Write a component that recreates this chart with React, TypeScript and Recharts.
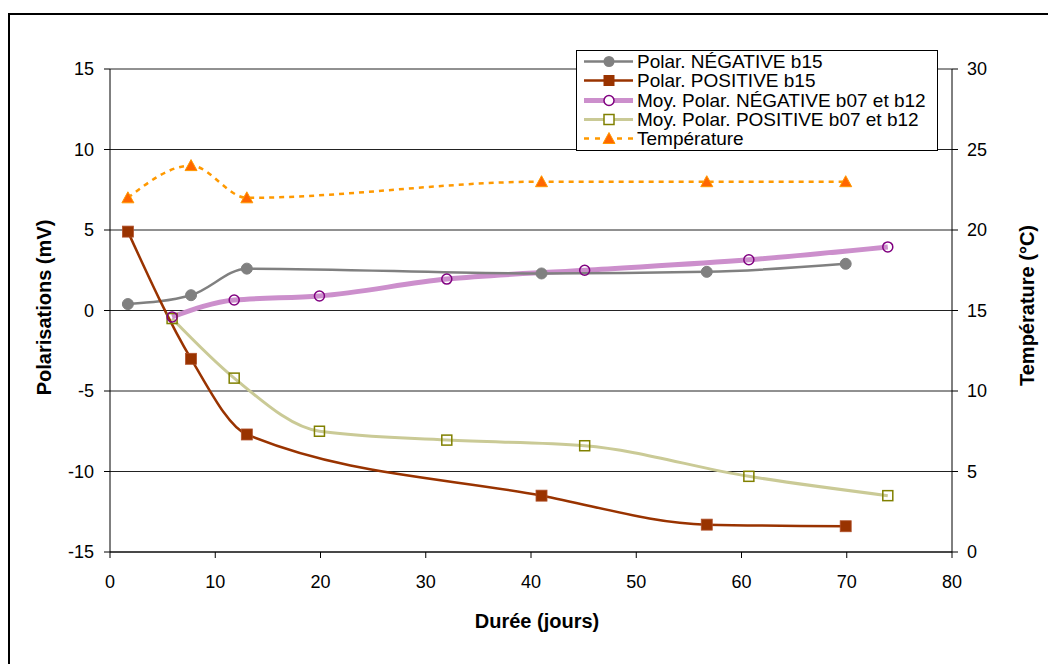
import React from 'react';
import { LineChart, Line, XAxis, YAxis, CartesianGrid, Legend } from 'recharts';

// ---- data ----
const negB15Days = [1.7, 7.7, 13.0, 41.0, 56.7, 69.9];
const negB15Values = [0.4, 0.95, 2.6, 2.3, 2.4, 2.9];
const posB15Days = [1.7, 7.7, 13.0, 41.0, 56.7, 69.9];
const posB15Values = [4.9, -3.0, -7.7, -11.5, -13.3, -13.4];
const moyNegDays = [5.9, 11.8, 19.9, 32.0, 45.1, 60.7, 73.9];
const moyNegValues = [-0.4, 0.65, 0.9, 1.95, 2.5, 3.15, 3.95];
const moyPosDays = [5.9, 11.8, 19.9, 32.0, 45.1, 60.7, 73.9];
const moyPosValues = [-0.5, -4.2, -7.5, -8.05, -8.4, -10.3, -11.5];
const tempDays = [1.7, 7.7, 13.0, 41.0, 56.7, 69.9];
const tempValues = [22, 24, 22, 23, 23, 23];

const xTicks = [0, 10, 20, 30, 40, 50, 60, 70, 80];
const leftTicks = [-15, -10, -5, 0, 5, 10, 15];
const rightTicks = [0, 5, 10, 15, 20, 25, 30];

const seriesNames = [
  'Polar. NÉGATIVE b15',
  'Polar. POSITIVE b15',
  'Moy. Polar. NÉGATIVE b07 et b12',
  'Moy. Polar. POSITIVE b07 et b12',
  'Température',
];

const xTitle = 'Durée (jours)';
const leftTitle = 'Polarisations (mV)';
const rightTitle = 'Température (°C)';

const zip = (xs: number[], ys: number[]) => xs.map((x, i) => ({ x, y: ys[i] }));
const negB15Data = zip(negB15Days, negB15Values);
const posB15Data = zip(posB15Days, posB15Values);
const moyNegData = zip(moyNegDays, moyNegValues);
const moyPosData = zip(moyPosDays, moyPosValues);
const tempData = zip(tempDays, tempValues);

const FONT = '"Liberation Sans", Arial, sans-serif';

const C_GRAY = '#808080';
const C_BROWN = '#993300';
const C_PINK = '#CC8FCC';
const C_PURPLE = '#800080';
const C_OLIVE_LINE = '#CACA96';
const C_OLIVE = '#808000';
const C_ORANGE = '#FF9900';
const C_ORANGE_FILL = '#FF6600';

// ---- markers ----
const grayDot = (p: any) =>
  p.cx == null ? <g key={p.index} /> : <circle key={p.index} cx={p.cx} cy={p.cy} r={5.5} fill={C_GRAY} stroke={C_GRAY} />;
const brownSquare = (p: any) =>
  p.cx == null ? <g key={p.index} /> : <rect key={p.index} x={p.cx - 5.5} y={p.cy - 5.5} width={11} height={11} fill={C_BROWN} stroke="#B0502A" strokeWidth={0.8} />;
const purpleCircle = (p: any) =>
  p.cx == null ? <g key={p.index} /> : <circle key={p.index} cx={p.cx} cy={p.cy} r={5} fill="none" stroke={C_PURPLE} strokeWidth={1.5} />;
const oliveSquare = (p: any) =>
  p.cx == null ? <g key={p.index} /> : <rect key={p.index} x={p.cx - 5} y={p.cy - 5} width={10} height={10} fill="none" stroke={C_OLIVE} strokeWidth={1.5} />;
const triangle = (p: any) =>
  p.cx == null ? <g key={p.index} /> : (
    <polygon key={p.index} points={`${p.cx},${p.cy - 6} ${p.cx + 6},${p.cy + 5} ${p.cx - 6},${p.cy + 5}`} fill={C_ORANGE_FILL} stroke={C_ORANGE} strokeWidth={1} />
  );

// ---- legend ----
const LegendIcon = ({ idx }: { idx: number }) => {
  const y = 9.5;
  const cx = 32;
  const common = { width: 56, height: 19 };
  if (idx === 0)
    return (
      <svg {...common}>
        <line x1={7} x2={56} y1={y} y2={y} stroke={C_GRAY} strokeWidth={2.5} />
        <circle cx={cx} cy={y} r={5.5} fill={C_GRAY} />
      </svg>
    );
  if (idx === 1)
    return (
      <svg {...common}>
        <line x1={7} x2={56} y1={y} y2={y} stroke={C_BROWN} strokeWidth={2.5} />
        <rect x={cx - 5.5} y={y - 5.5} width={11} height={11} fill={C_BROWN} />
      </svg>
    );
  if (idx === 2)
    return (
      <svg {...common}>
        <line x1={7} x2={56} y1={y} y2={y} stroke={C_PINK} strokeWidth={5} />
        <circle cx={cx} cy={y} r={5} fill="#fff" stroke={C_PURPLE} strokeWidth={1.5} />
      </svg>
    );
  if (idx === 3)
    return (
      <svg {...common}>
        <line x1={7} x2={56} y1={y} y2={y} stroke={C_OLIVE_LINE} strokeWidth={3} />
        <rect x={cx - 5} y={y - 5} width={10} height={10} fill="#fff" stroke={C_OLIVE} strokeWidth={1.5} />
      </svg>
    );
  return (
    <svg {...common}>
      <line x1={7} x2={56} y1={y} y2={y} stroke={C_ORANGE} strokeWidth={2.5} strokeDasharray="5 6" />
      <polygon points={`${cx},${y - 6} ${cx + 6},${y + 5} ${cx - 6},${y + 5}`} fill={C_ORANGE_FILL} stroke={C_ORANGE} />
    </svg>
  );
};

const LegendBox = () => (
  <div
    style={{
      border: '1px solid #000',
      background: '#fff',
      width: 360,
      height: 98,
      paddingTop: 1,
      boxSizing: 'content-box',
      fontFamily: FONT,
      fontSize: 19,
      color: '#000',
    }}
  >
    {seriesNames.map((n, i) => (
      <div key={n} style={{ display: 'flex', alignItems: 'center', height: 19.3, lineHeight: '19px', whiteSpace: 'nowrap' }}>
        <LegendIcon idx={i} />
        <span style={{ marginLeft: 4 }}>{n}</span>
      </div>
    ))}
  </div>
);

// ---- axis titles ----
const titleStyle = { fontFamily: FONT, fontSize: 20, fontWeight: 700, fill: '#000' } as const;

const LeftTitle = (props: any) => {
  const vb = props.viewBox || { x: 30, y: 61, width: 72, height: 483 };
  const cx = vb.x + 5.5;
  const cy = vb.y + vb.height / 2 - 3;
  return (
    <text x={cx} y={cy} transform={`rotate(-90 ${cx} ${cy})`} textAnchor="middle" dominantBaseline="central" style={titleStyle}>
      {leftTitle}
    </text>
  );
};
const RightTitle = (props: any) => {
  const vb = props.viewBox || { x: 944, y: 61, width: 84, height: 483 };
  const cx = vb.x + 75;
  const cy = vb.y + vb.height / 2 - 5;
  return (
    <text x={cx} y={cy} transform={`rotate(-90 ${cx} ${cy})`} textAnchor="middle" dominantBaseline="central" style={titleStyle}>
      {rightTitle}
    </text>
  );
};
const BottomTitle = (props: any) => {
  const vb = props.viewBox || { x: 102, y: 544, width: 842, height: 60 };
  const cx = vb.x + vb.width / 2 + 6;
  const cy = vb.y + 69;
  return (
    <text x={cx} y={cy} textAnchor="middle" dominantBaseline="central" style={titleStyle}>
      {xTitle}
    </text>
  );
};

const tickStyle = { fontSize: 18, fill: '#000', fontFamily: FONT };

export default function App() {
  return (
    <div style={{ position: 'relative', width: 1048, height: 656, overflow: 'hidden' }}>
      <div
        style={{
          position: 'absolute',
          left: 0,
          top: 5,
          width: 1048,
          height: 651,
          borderLeft: '2px solid #000',
          borderTop: '2px solid #000',
          boxSizing: 'border-box',
        }}
      />
      <div style={{ position: 'absolute', left: 0, top: 0 }}>
        <LineChart width={1048} height={656} margin={{ top: 61, right: 20, left: 30, bottom: 52 }}>
          <CartesianGrid horizontal vertical={false} stroke="#222" strokeWidth={1} yAxisId="left" />
          <XAxis
            dataKey="x"
            type="number"
            domain={[0, 80]}
            ticks={xTicks}
            allowDataOverflow
            height={60}
            tick={tickStyle}
            tickSize={6}
            tickMargin={17}
            axisLine={{ stroke: '#000' }}
            tickLine={{ stroke: '#000' }}
            label={<BottomTitle />}
          />
          <YAxis
            yAxisId="left"
            dataKey="y"
            type="number"
            domain={[-15, 15]}
            ticks={leftTicks}
            width={72}
            tick={tickStyle}
            tickSize={6}
            tickMargin={10}
            axisLine={{ stroke: '#000' }}
            tickLine={{ stroke: '#000' }}
            label={<LeftTitle />}
          />
          <YAxis
            yAxisId="right"
            orientation="right"
            dataKey="y"
            type="number"
            domain={[0, 30]}
            ticks={rightTicks}
            width={84}
            tick={{ ...tickStyle, textAnchor: 'start' }}
            tickSize={6}
            tickMargin={9}
            axisLine={{ stroke: '#000' }}
            tickLine={{ stroke: '#000' }}
            label={<RightTitle />}
          />
          <Legend
            layout="vertical"
            align="center"
            verticalAlign="middle"
            content={<LegendBox />}
            wrapperStyle={{ left: 568, top: 42, width: 362, height: 100 }}
          />
          <Line yAxisId="right" data={tempData} dataKey="y" type="monotone" stroke={C_ORANGE} strokeWidth={2.5} strokeDasharray="5 5" dot={triangle} activeDot={false} isAnimationActive={false} name={seriesNames[4]} />
          <Line yAxisId="left" data={moyPosData} dataKey="y" type="monotone" stroke={C_OLIVE_LINE} strokeWidth={3} dot={oliveSquare} activeDot={false} isAnimationActive={false} name={seriesNames[3]} />
          <Line yAxisId="left" data={moyNegData} dataKey="y" type="monotone" stroke={C_PINK} strokeWidth={5} dot={purpleCircle} activeDot={false} isAnimationActive={false} name={seriesNames[2]} />
          <Line yAxisId="left" data={negB15Data} dataKey="y" type="monotone" stroke={C_GRAY} strokeWidth={2.5} dot={grayDot} activeDot={false} isAnimationActive={false} name={seriesNames[0]} />
          <Line yAxisId="left" data={posB15Data} dataKey="y" type="monotone" stroke={C_BROWN} strokeWidth={2.5} dot={brownSquare} activeDot={false} isAnimationActive={false} name={seriesNames[1]} />
        </LineChart>
      </div>
    </div>
  );
}
